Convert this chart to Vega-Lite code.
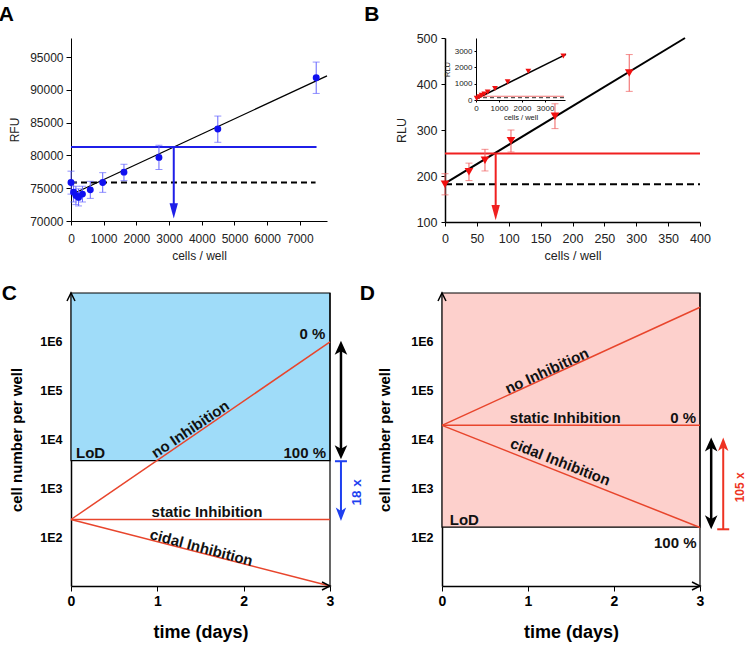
{
 "$schema": "https://vega.github.io/schema/vega-lite/v6.json",
 "padding": {"left": -2, "top": 4, "right": 0, "bottom": 2},
 "background": "white",
 "config": {
  "view": {"stroke": null},
  "font": "Liberation Sans",
  "axis": {"grid": false, "domainColor": "black", "tickColor": "black", "labelFont": "Liberation Sans", "titleFont": "Liberation Sans", "labelFlush": false},
  "title": {"anchor": "start", "frame": "bounds", "fontSize": 21, "fontWeight": "bold", "font": "Liberation Sans", "color": "black"}
 },
 "vconcat": [
  {
   "spacing": 34,
   "hconcat": [
    {
     "width": 256, "height": 183,
     "title": {"text": "A", "dx": -10, "offset": 13},
     "encoding": {
      "x": {"field": "x", "type": "quantitative", "scale": {"domain": [0, 7830], "nice": false, "zero": false},
            "axis": {"values": [0,1000,2000,3000,4000,5000,6000,7000], "format": "d", "title": "cells / well", "labelFontSize": 12, "titleFontSize": 12, "titleFontWeight": "normal", "tickSize": 4, "labelPadding": 8, "titlePadding": 6, "labelColor": "#222", "titleColor": "#222"}},
      "y": {"field": "y", "type": "quantitative", "scale": {"domain": [70000, 97900], "nice": false, "zero": false},
            "axis": {"values": [70000,75000,80000,85000,90000,95000], "format": "d", "title": "RFU", "labelFontSize": 12, "titleFontSize": 12, "titleFontWeight": "normal", "tickSize": 5, "labelPadding": 3, "titlePadding": 8, "labelColor": "#222", "titleColor": "#222"}}
     },
     "layer": [
      {"data": {"values": [{"x": 0, "y": 74000}, {"x": 7830, "y": 92120}]}, "mark": {"type": "line", "color": "black", "strokeWidth": 1.3}},
      {"data": {"values": [{"x": 0, "x2": 7510, "y": 81276}]}, "mark": {"type": "rule", "color": "#1f1fe8", "strokeWidth": 2}, "encoding": {"x2": {"field": "x2"}}},
      {"data": {"values": [{"x": 0, "x2": 7480, "y": 75870}]}, "mark": {"type": "rule", "color": "black", "strokeWidth": 1.8, "strokeDash": [6, 4]}, "encoding": {"x2": {"field": "x2"}}},
      {"data": {"values": [{"x": 3143, "y": 81276, "y2": 71500}]}, "mark": {"type": "rule", "color": "#1f1fe8", "strokeWidth": 2}, "encoding": {"y2": {"field": "y2"}}},
      {"data": {"values": [{"x": 3143, "y": 70400}]}, "mark": {"type": "point", "shape": "M0,0L0.5,-1.8L-0.5,-1.8Z", "size": 280, "filled": true, "color": "#1f1fe8", "opacity": 1}},
      {"data": {"values": [
        {"x": 0, "lo": 74100, "hi": 77600}, {"x": 80, "lo": 72900, "hi": 75900}, {"x": 150, "lo": 72500, "hi": 75300},
        {"x": 230, "lo": 72300, "hi": 74900}, {"x": 350, "lo": 72900, "hi": 75300}, {"x": 590, "lo": 73450, "hi": 76050},
        {"x": 970, "lo": 74370, "hi": 77370}, {"x": 1620, "lo": 76150, "hi": 78650}, {"x": 2690, "lo": 77850, "hi": 81550},
        {"x": 4490, "lo": 82000, "hi": 86000}, {"x": 7500, "lo": 89450, "hi": 94230}]},
       "mark": {"type": "errorbar", "ticks": {"color": "#6464ff", "size": 7}, "rule": {"color": "#6464ff", "strokeWidth": 1}},
       "encoding": {"y": {"field": "lo", "type": "quantitative"}, "y2": {"field": "hi"}}},
      {"data": {"values": [
        {"x": 0, "y": 75870}, {"x": 80, "y": 74400}, {"x": 150, "y": 73900}, {"x": 230, "y": 73600}, {"x": 350, "y": 74100},
        {"x": 590, "y": 74750}, {"x": 970, "y": 75870}, {"x": 1620, "y": 77450}, {"x": 2690, "y": 79700}, {"x": 4490, "y": 84030}, {"x": 7500, "y": 91840}]},
       "mark": {"type": "circle", "color": "#1010f0", "size": 48, "opacity": 1}}
     ]
    },
    {
     "width": 255, "height": 184,
     "title": {"text": "B", "dx": -31, "offset": 7},
     "layer": [
      {
       "encoding": {
        "x": {"field": "x", "type": "quantitative", "scale": {"domain": [0, 400], "nice": false, "zero": false},
              "axis": {"values": [0,50,100,150,200,250,300,350,400], "format": "d", "title": "cells / well", "labelFontSize": 12.5, "titleFontSize": 12.5, "titleFontWeight": "normal", "tickSize": 4, "labelPadding": 6, "titlePadding": 5, "labelColor": "#222", "titleColor": "#222", "domainWidth": 1.5}},
        "y": {"field": "y", "type": "quantitative", "scale": {"domain": [100, 500], "nice": false, "zero": false},
              "axis": {"values": [100,200,300,400,500], "format": "d", "title": "RLU", "labelFontSize": 12.5, "titleFontSize": 12.5, "titleFontWeight": "normal", "tickSize": 4, "labelPadding": 4, "titlePadding": 8, "labelColor": "#222", "titleColor": "#222", "domainWidth": 1.5}}
       },
       "layer": [
        {"data": {"values": [{"x": 0, "y": 184}, {"x": 376.5, "y": 500}]}, "mark": {"type": "line", "color": "black", "strokeWidth": 2}},
        {"data": {"values": [{"x": 0, "x2": 400, "y": 249}]}, "mark": {"type": "rule", "color": "#f02020", "strokeWidth": 2}, "encoding": {"x2": {"field": "x2"}}},
        {"data": {"values": [{"x": 0, "x2": 400, "y": 182}]}, "mark": {"type": "rule", "color": "black", "strokeWidth": 2, "strokeDash": [7, 4]}, "encoding": {"x2": {"field": "x2"}}},
        {"data": {"values": [{"x": 79.5, "y": 249, "y2": 115}]}, "mark": {"type": "rule", "color": "#f02020", "strokeWidth": 2}, "encoding": {"y2": {"field": "y2"}}},
        {"data": {"values": [{"x": 79.5, "y": 104}]}, "mark": {"type": "point", "shape": "M0,0L0.5,-1.8L-0.5,-1.8Z", "size": 280, "filled": true, "color": "#f02020", "opacity": 1}},
        {"data": {"values": [
          {"x": 0, "lo": 159, "hi": 205}, {"x": 37.6, "lo": 190, "hi": 228}, {"x": 62.7, "lo": 211, "hi": 258},
          {"x": 103.5, "lo": 252, "hi": 300}, {"x": 172.5, "lo": 303, "hi": 357}, {"x": 289, "lo": 384, "hi": 464}]},
         "mark": {"type": "errorbar", "ticks": {"color": "#f06060", "size": 7}, "rule": {"color": "#f06060", "strokeWidth": 1}},
         "encoding": {"y": {"field": "lo", "type": "quantitative"}, "y2": {"field": "hi"}}},
        {"data": {"values": [
          {"x": 0, "y": 182}, {"x": 37.6, "y": 209}, {"x": 62.7, "y": 234.5}, {"x": 103.5, "y": 276.7}, {"x": 172.5, "y": 329.8}, {"x": 289, "y": 424}]},
         "mark": {"type": "point", "shape": "triangle-down", "size": 75, "filled": true, "color": "#f01010", "opacity": 1}}
       ]
      },
      {
       "encoding": {
        "x": {"field": "x", "type": "quantitative", "scale": {"domain": [0, 3870], "range": [31, 120], "nice": false, "zero": false},
              "axis": {"orient": "bottom", "offset": -122, "values": [0,1000,2000,3000], "format": "d", "title": "cells / well", "labelFontSize": 8, "titleFontSize": 7.5, "titleFontWeight": "normal", "tickSize": 2, "labelPadding": 2, "titlePadding": 1, "labelColor": "#222", "titleColor": "#222"}},
        "y": {"field": "y", "type": "quantitative", "scale": {"domain": [0, 3810], "range": [62, 0], "nice": false, "zero": false},
              "axis": {"orient": "left", "offset": -31, "values": [0,1000,2000,3000], "format": "d", "title": "RLU", "labelFontSize": 8, "titleFontSize": 7.5, "titleFontWeight": "normal", "tickSize": 2, "labelPadding": 2, "titlePadding": 3, "labelColor": "#222", "titleColor": "#222"}}
       },
       "layer": [
        {"data": {"values": [{"x": 0, "y": 60}, {"x": 3913, "y": 2800}]}, "mark": {"type": "line", "color": "black", "strokeWidth": 1.5}},
        {"data": {"values": [{"x": 0, "x2": 3830, "y": 230}]}, "mark": {"type": "rule", "color": "#f07070", "strokeWidth": 1.2}, "encoding": {"x2": {"field": "x2"}}},
        {"data": {"values": [{"x": 0, "x2": 3830, "y": 140}]}, "mark": {"type": "rule", "color": "#555", "strokeWidth": 1.2, "strokeDash": [4, 3]}, "encoding": {"x2": {"field": "x2"}}},
        {"data": {"values": [
          {"x": 30, "y": 100}, {"x": 145, "y": 200}, {"x": 246, "y": 284}, {"x": 362, "y": 365}, {"x": 507, "y": 487},
          {"x": 826, "y": 710}, {"x": 1377, "y": 1115}, {"x": 2275, "y": 1765}, {"x": 3797, "y": 2700}]},
         "mark": {"type": "point", "shape": "triangle-down", "size": 34, "filled": true, "color": "#f01010", "opacity": 1}}
       ]
      }
     ],
     "resolve": {"scale": {"x": "independent", "y": "independent"}, "axis": {"x": "independent", "y": "independent"}}
    }
   ]
  },
  {
   "spacing": -5,
   "hconcat": [
    {
     "width": 259, "height": 293,
     "title": {"text": "C", "dx": -8, "offset": -14},
     "encoding": {
      "x": {"field": "x", "type": "quantitative", "scale": {"domain": [0, 3], "nice": false, "zero": false},
            "axis": {"values": [0,1,2,3], "format": "d", "title": "time (days)", "labelFontSize": 14, "labelFontWeight": "bold", "titleFontSize": 18, "titleFontWeight": "bold", "tickSize": 5, "labelPadding": 3, "titlePadding": 15, "labelColor": "black", "titleColor": "black", "domainWidth": 1.5}},
      "y": {"field": "y", "type": "quantitative", "scale": {"type": "log", "domain": [10, 10000000], "nice": false},
            "axis": {"values": [100,1000,10000,100000,1000000], "labelExpr": "'1E' + round(log(datum.value) / LN10)", "ticks": false,
                     "labelOverlap": false, "title": "cell number per well", "labelFontSize": 12.5, "labelFontWeight": "bold", "titleFontSize": 15, "titleFontWeight": "bold", "labelPadding": 9, "titlePadding": 15, "labelColor": "black", "titleColor": "black", "domainWidth": 1.5}}
     },
     "layer": [
      {"data": {"values": [{"x": 0, "x2": 3, "y": 3700, "y2": 10000000}]}, "mark": {"type": "rect", "fill": "#9fdcf9", "stroke": "black", "strokeWidth": 1.2}, "encoding": {"x2": {"field": "x2"}, "y2": {"field": "y2"}}},
      {"data": {"values": [{"x": 3, "y": 10, "y2": 10000000}]}, "mark": {"type": "rule", "color": "black", "strokeWidth": 1.2}, "encoding": {"y2": {"field": "y2"}}},
      {"data": {"values": [{"y": 20},{"y": 30},{"y": 40},{"y": 50},{"y": 60},{"y": 70},{"y": 80},{"y": 90},{"y": 200},{"y": 300},{"y": 400},{"y": 500},{"y": 600},{"y": 700},{"y": 800},{"y": 900},{"y": 2000},{"y": 3000},{"y": 4000},{"y": 5000},{"y": 6000},{"y": 7000},{"y": 8000},{"y": 9000},{"y": 20000},{"y": 30000},{"y": 40000},{"y": 50000},{"y": 60000},{"y": 70000},{"y": 80000},{"y": 90000},{"y": 200000},{"y": 300000},{"y": 400000},{"y": 500000},{"y": 600000},{"y": 700000},{"y": 800000},{"y": 900000},{"y": 2000000},{"y": 3000000},{"y": 4000000},{"y": 5000000},{"y": 6000000},{"y": 7000000},{"y": 8000000},{"y": 9000000}]},
       "mark": {"type": "point", "shape": "stroke", "size": 22, "filled": false, "strokeWidth": 1.2, "color": "black", "opacity": 1, "xOffset": -3},
       "encoding": {"x": {"datum": 0, "type": "quantitative"}}},
      {"data": {"values": [{"y": 100},{"y": 1000},{"y": 10000},{"y": 100000},{"y": 1000000}]},
       "mark": {"type": "point", "shape": "stroke", "size": 64, "filled": false, "strokeWidth": 1.4, "color": "black", "opacity": 1, "xOffset": -4.5},
       "encoding": {"x": {"datum": 0, "type": "quantitative"}}},
      {"data": {"values": [{"s": "no", "x": 0, "y": 230}, {"s": "no", "x": 3, "y": 1000000}, {"s": "static", "x": 0, "y": 230}, {"s": "static", "x": 3, "y": 230}, {"s": "cidal", "x": 0, "y": 230}, {"s": "cidal", "x": 3, "y": 10}]},
       "mark": {"type": "line", "color": "#e8452c", "strokeWidth": 1.5}, "encoding": {"detail": {"field": "s"}}},
      {"data": {"values": [{"t": "no Inhibition", "x": 1.382, "y": 16250}]}, "mark": {"type": "text", "angle": -34, "fontSize": 15, "fontWeight": "bold", "color": "#111"}, "encoding": {"text": {"field": "t"}}},
      {"data": {"values": [{"t": "static Inhibition", "x": 1.575, "y": 335}]}, "mark": {"type": "text", "fontSize": 15, "fontWeight": "bold", "color": "#111"}, "encoding": {"text": {"field": "t"}}},
      {"data": {"values": [{"t": "cidal Inhibition", "x": 1.51, "y": 61}]}, "mark": {"type": "text", "angle": 15, "fontSize": 15, "fontWeight": "bold", "color": "#111"}, "encoding": {"text": {"field": "t"}}},
      {"data": {"values": [{"t": "0 %", "x": 2.946, "y": 1440000}, {"t": "100 %", "x": 2.954, "y": 5240}]}, "mark": {"type": "text", "align": "right", "fontSize": 15, "fontWeight": "bold", "color": "#111"}, "encoding": {"text": {"field": "t"}}},
      {"data": {"values": [{"t": "LoD", "x": 0.058, "y": 5240}]}, "mark": {"type": "text", "align": "left", "fontSize": 15, "fontWeight": "bold", "color": "#111"}, "encoding": {"text": {"field": "t"}}},
      {"data": {"values": [{"x": 3.127, "y": 800000, "y2": 5000}]}, "mark": {"type": "rule", "color": "black", "strokeWidth": 2.5}, "encoding": {"y2": {"field": "y2"}}},
      {"data": {"values": [{"x": 3.127, "y": 1050000}]}, "mark": {"type": "point", "shape": "M0,0L0.7,1.55L0,1.15L-0.7,1.55Z", "size": 324, "filled": true, "color": "black", "opacity": 1}},
      {"data": {"values": [{"x": 3.127, "y": 3960}]}, "mark": {"type": "point", "shape": "M0,0L0.7,-1.55L0,-1.15L-0.7,-1.55Z", "size": 324, "filled": true, "color": "black", "opacity": 1}},
      {"data": {"values": [{"x": 3.127, "y": 3590, "y2": 290}]}, "mark": {"type": "rule", "color": "#1e3ff0", "strokeWidth": 2}, "encoding": {"y2": {"field": "y2"}}},
      {"data": {"values": [{"x": 3.127, "y": 3590}]}, "mark": {"type": "point", "shape": "stroke", "size": 144, "filled": false, "strokeWidth": 2, "color": "#1e3ff0", "opacity": 1}},
      {"data": {"values": [{"x": 3.127, "y": 215}]}, "mark": {"type": "point", "shape": "M0,0L0.6,-1.55L0,-1.15L-0.6,-1.55Z", "size": 300, "filled": true, "color": "#1e3ff0", "opacity": 1}},
      {"data": {"values": [{"t": "18 x", "x": 3.31, "y": 830}]}, "mark": {"type": "text", "angle": -90, "fontSize": 13.5, "fontWeight": "bold", "color": "#1e3ff0"}, "encoding": {"text": {"field": "t"}}},
      {"data": {"values": [{"x": 0, "y": 10000000}]}, "mark": {"type": "point", "shape": "M-0.5,1L0,0L0.5,1", "size": 256, "filled": false, "strokeWidth": 1.5, "color": "black", "opacity": 1}},
      {"data": {"values": [{"x": 3, "y": 10}]}, "mark": {"type": "point", "shape": "M-1,-0.5L0,0L-1,0.5", "size": 256, "filled": false, "strokeWidth": 1.5, "color": "black", "opacity": 1}}
     ]
    },
    {
     "width": 258, "height": 293,
     "title": {"text": "D", "dx": -18, "offset": -14},
     "encoding": {
      "x": {"field": "x", "type": "quantitative", "scale": {"domain": [0, 3], "nice": false, "zero": false},
            "axis": {"values": [0,1,2,3], "format": "d", "title": "time (days)", "labelFontSize": 14, "labelFontWeight": "bold", "titleFontSize": 18, "titleFontWeight": "bold", "tickSize": 5, "labelPadding": 3, "titlePadding": 15, "labelColor": "black", "titleColor": "black", "domainWidth": 1.5}},
      "y": {"field": "y", "type": "quantitative", "scale": {"type": "log", "domain": [10, 10000000], "nice": false},
            "axis": {"values": [100,1000,10000,100000,1000000], "labelExpr": "'1E' + round(log(datum.value) / LN10)", "ticks": false,
                     "labelOverlap": false, "title": "cell number per well", "labelFontSize": 12.5, "labelFontWeight": "bold", "titleFontSize": 15, "titleFontWeight": "bold", "labelPadding": 9, "titlePadding": 18, "labelColor": "black", "titleColor": "black", "domainWidth": 1.5}}
     },
     "layer": [
      {"data": {"values": [{"x": 0, "x2": 3, "y": 160, "y2": 10000000}]}, "mark": {"type": "rect", "fill": "#fdd0cc", "stroke": "black", "strokeWidth": 1.2}, "encoding": {"x2": {"field": "x2"}, "y2": {"field": "y2"}}},
      {"data": {"values": [{"x": 3, "y": 10, "y2": 10000000}]}, "mark": {"type": "rule", "color": "black", "strokeWidth": 1.2}, "encoding": {"y2": {"field": "y2"}}},
      {"data": {"values": [{"y": 20},{"y": 30},{"y": 40},{"y": 50},{"y": 60},{"y": 70},{"y": 80},{"y": 90},{"y": 200},{"y": 300},{"y": 400},{"y": 500},{"y": 600},{"y": 700},{"y": 800},{"y": 900},{"y": 2000},{"y": 3000},{"y": 4000},{"y": 5000},{"y": 6000},{"y": 7000},{"y": 8000},{"y": 9000},{"y": 20000},{"y": 30000},{"y": 40000},{"y": 50000},{"y": 60000},{"y": 70000},{"y": 80000},{"y": 90000},{"y": 200000},{"y": 300000},{"y": 400000},{"y": 500000},{"y": 600000},{"y": 700000},{"y": 800000},{"y": 900000},{"y": 2000000},{"y": 3000000},{"y": 4000000},{"y": 5000000},{"y": 6000000},{"y": 7000000},{"y": 8000000},{"y": 9000000}]},
       "mark": {"type": "point", "shape": "stroke", "size": 22, "filled": false, "strokeWidth": 1.2, "color": "black", "opacity": 1, "xOffset": -3},
       "encoding": {"x": {"datum": 0, "type": "quantitative"}}},
      {"data": {"values": [{"y": 100},{"y": 1000},{"y": 10000},{"y": 100000},{"y": 1000000}]},
       "mark": {"type": "point", "shape": "stroke", "size": 64, "filled": false, "strokeWidth": 1.4, "color": "black", "opacity": 1, "xOffset": -4.5},
       "encoding": {"x": {"datum": 0, "type": "quantitative"}}},
      {"data": {"values": [{"s": "no", "x": 0, "y": 19500}, {"s": "no", "x": 3, "y": 5100000}, {"s": "static", "x": 0, "y": 19500}, {"s": "static", "x": 3, "y": 19500}, {"s": "cidal", "x": 0, "y": 19500}, {"s": "cidal", "x": 3, "y": 158}]},
       "mark": {"type": "line", "color": "#e8452c", "strokeWidth": 1.5}, "encoding": {"detail": {"field": "s"}}},
      {"data": {"values": [{"t": "no Inhibition", "x": 1.219, "y": 255000}]}, "mark": {"type": "text", "angle": -24.5, "fontSize": 15, "fontWeight": "bold", "color": "#111"}, "encoding": {"text": {"field": "t"}}},
      {"data": {"values": [{"t": "static Inhibition", "x": 1.433, "y": 28200}]}, "mark": {"type": "text", "fontSize": 15, "fontWeight": "bold", "color": "#111"}, "encoding": {"text": {"field": "t"}}},
      {"data": {"values": [{"t": "cidal Inhibition", "x": 1.375, "y": 3475}]}, "mark": {"type": "text", "angle": 21.5, "fontSize": 15, "fontWeight": "bold", "color": "#111"}, "encoding": {"text": {"field": "t"}}},
      {"data": {"values": [{"t": "0 %", "x": 2.954, "y": 27300}, {"t": "100 %", "x": 2.96, "y": 77}]}, "mark": {"type": "text", "align": "right", "fontSize": 15, "fontWeight": "bold", "color": "#111"}, "encoding": {"text": {"field": "t"}}},
      {"data": {"values": [{"t": "LoD", "x": 0.09, "y": 222}]}, "mark": {"type": "text", "align": "left", "fontSize": 15, "fontWeight": "bold", "color": "#111"}, "encoding": {"text": {"field": "t"}}},
      {"data": {"values": [{"x": 3.13, "y": 8500, "y2": 190}]}, "mark": {"type": "rule", "color": "black", "strokeWidth": 2.5}, "encoding": {"y2": {"field": "y2"}}},
      {"data": {"values": [{"x": 3.13, "y": 11000}]}, "mark": {"type": "point", "shape": "M0,0L0.7,1.55L0,1.15L-0.7,1.55Z", "size": 324, "filled": true, "color": "black", "opacity": 1}},
      {"data": {"values": [{"x": 3.13, "y": 145}]}, "mark": {"type": "point", "shape": "M0,0L0.7,-1.55L0,-1.15L-0.7,-1.55Z", "size": 324, "filled": true, "color": "black", "opacity": 1}},
      {"data": {"values": [{"x": 3.27, "y": 145, "y2": 9000}]}, "mark": {"type": "rule", "color": "#ee3322", "strokeWidth": 2}, "encoding": {"y2": {"field": "y2"}}},
      {"data": {"values": [{"x": 3.27, "y": 145}]}, "mark": {"type": "point", "shape": "stroke", "size": 144, "filled": false, "strokeWidth": 2, "color": "#ee3322", "opacity": 1}},
      {"data": {"values": [{"x": 3.27, "y": 11000}]}, "mark": {"type": "point", "shape": "M0,0L0.6,1.55L0,1.15L-0.6,1.55Z", "size": 300, "filled": true, "color": "#ee3322", "opacity": 1}},
      {"data": {"values": [{"t": "105 x", "x": 3.46, "y": 1050}]}, "mark": {"type": "text", "angle": -90, "fontSize": 12, "fontWeight": "bold", "color": "#ee3322"}, "encoding": {"text": {"field": "t"}}},
      {"data": {"values": [{"x": 0, "y": 10000000}]}, "mark": {"type": "point", "shape": "M-0.5,1L0,0L0.5,1", "size": 256, "filled": false, "strokeWidth": 1.5, "color": "black", "opacity": 1}},
      {"data": {"values": [{"x": 3, "y": 10}]}, "mark": {"type": "point", "shape": "M-1,-0.5L0,0L-1,0.5", "size": 256, "filled": false, "strokeWidth": 1.5, "color": "black", "opacity": 1}}
     ]
    }
   ]
  }
 ],
 "spacing": 21
}
